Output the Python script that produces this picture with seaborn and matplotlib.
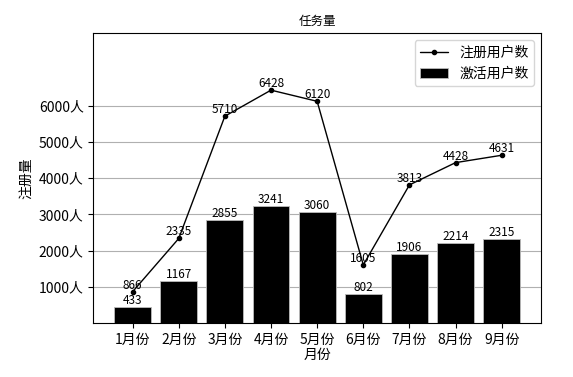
import pandas as pd
import seaborn as sns
import matplotlib.pyplot as plt

months = ['1月份', '2月份', '3月份', '4月份', '5月份', '6月份', '7月份', '8月份', '9月份']
registered = [866, 2335, 5710, 6428, 6120, 1605, 3813, 4428, 4631]
activated = [433, 1167, 2855, 3241, 3060, 802, 1906, 2214, 2315]
yticks = [1000, 2000, 3000, 4000, 5000, 6000]

df = pd.DataFrame({'month': months, 'reg': registered, 'act': activated})

sns.set_style('ticks', {'axes.edgecolor': 'black', 'text.color': 'black',
                        'xtick.color': 'black', 'ytick.color': 'black',
                        'axes.labelcolor': 'black'})
plt.rcParams['font.family'] = ['Noto Sans CJK SC', 'DejaVu Sans']
plt.rcParams['axes.unicode_minus'] = False

fig, ax = plt.subplots(figsize=(5.73, 3.77), dpi=100)
fig.subplots_adjust(left=0.163, right=0.944, top=0.912, bottom=0.143)

ax.yaxis.grid(True, color='#b0b0b0', linewidth=0.8)
ax.set_axisbelow(True)

sns.barplot(data=df, x='month', y='act', color='black', saturation=1, width=0.8,
            edgecolor='#bbbbbb', linewidth=0.6, label='激活用户数', ax=ax)
ax.plot(range(len(months)), registered, color='black', marker='o', markersize=3,
        linewidth=1, label='注册用户数', zorder=3)

for i, v in enumerate(activated):
    ax.text(i, v, str(v), ha='center', va='bottom', fontsize=8.5, color='black')
for i, v in enumerate(registered):
    ax.text(i, v, str(v), ha='center', va='bottom', fontsize=8.5, color='black')

ax.set_xlim(-0.85, 8.85)
ax.set_ylim(0, 8000)
ax.set_yticks(yticks)
ax.set_yticklabels([f'{t}人' for t in yticks])
ax.tick_params(labelsize=10)
ax.set_title('任务量', fontsize=9)
ax.set_xlabel('月份', fontsize=10, labelpad=1)
ax.set_ylabel('注册量', fontsize=10)

h, l = ax.get_legend_handles_labels()
order = [l.index('注册用户数'), l.index('激活用户数')]
ax.legend([h[i] for i in order], [l[i] for i in order], loc='upper right', fontsize=10)

fig.savefig('out.png', dpi=100)
